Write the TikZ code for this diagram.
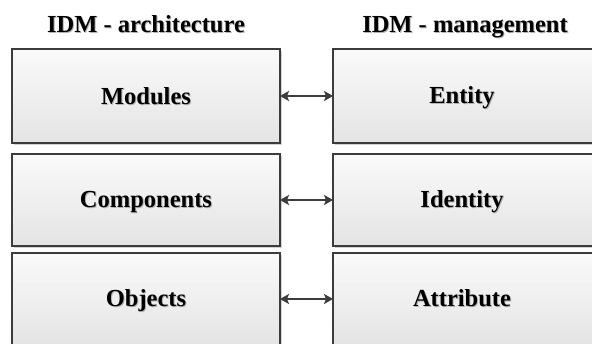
\documentclass[tikz,border=0pt]{standalone}
\usepackage{fontspec}
\setmainfont{Liberation Serif}
\usetikzlibrary{arrows.meta,shadows}
\definecolor{edge}{HTML}{3C3C3C}
\definecolor{filltop}{HTML}{FAFAFA}
\definecolor{fillbot}{HTML}{E4E4E4}
\definecolor{shade}{HTML}{B4B4B4}
\tikzset{
  block/.style={draw=edge, line width=1.4pt, rectangle, inner sep=0pt, outer sep=0pt,
    top color=filltop, bottom color=fillbot,
    drop shadow={shadow xshift=1.5pt, shadow yshift=-1.5pt, fill=black, opacity=0.18}},
  leftblock/.style={block, minimum width=268pt},
  rightblock/.style={block, minimum width=277pt},
  lbl/.style={font=\fontsize{24.5}{26}\selectfont\bfseries, text=black,
    anchor=base, inner sep=0pt},
  lblshadow/.style={lbl, text=shade},
  link/.style={draw=edge, line width=1.5pt, {Stealth[length=9pt,width=10pt,inset=2pt]}-{Stealth[length=9pt,width=10pt,inset=2pt]}}
}
% text with a soft offset shadow behind it, placed on its baseline
\newcommand{\shtext}[3]{%
  \node[lblshadow] at ([xshift=1pt,yshift=-1pt]#1) {#3};
  \node[lbl] (#2) at (#1) {#3};}
\begin{document}
\begin{tikzpicture}[x=1pt,y=-1pt]
\useasboundingbox (0,0) rectangle (592,343);
\clip (0,0) rectangle (592,343);
\fill[white] (0,0) rectangle (592,343);

% column headings
\shtext{146,32}{hA}{IDM - architecture}
\shtext{465,32}{hM}{IDM - management}

% left column: architecture levels
\node[leftblock, minimum height=94pt] (modbox) at (146,96) {};
\node[leftblock, minimum height=92pt] (combox) at (146,200) {};
\node[leftblock, minimum height=92pt] (objbox) at (146,299) {};

% right column: management levels
\node[rightblock, minimum height=94pt] (entbox) at (471.5,96) {};
\node[rightblock, minimum height=92pt] (idebox) at (471.5,200) {};
\node[rightblock, minimum height=92pt] (attbox) at (471.5,299) {};

% labels
\shtext{146,104}{mod}{Modules}
\shtext{146,207}{com}{Components}
\shtext{146,306}{obj}{Objects}
\shtext{462,103.5}{ent}{Entity}
\shtext{462,207}{ide}{Identity}
\shtext{462,306}{att}{Attribute}

% correspondences
\draw[link] (modbox.east) -- (entbox.west);
\draw[link] (combox.east) -- (idebox.west);
\draw[link] (objbox.east) -- (attbox.west);
\end{tikzpicture}
\end{document}
